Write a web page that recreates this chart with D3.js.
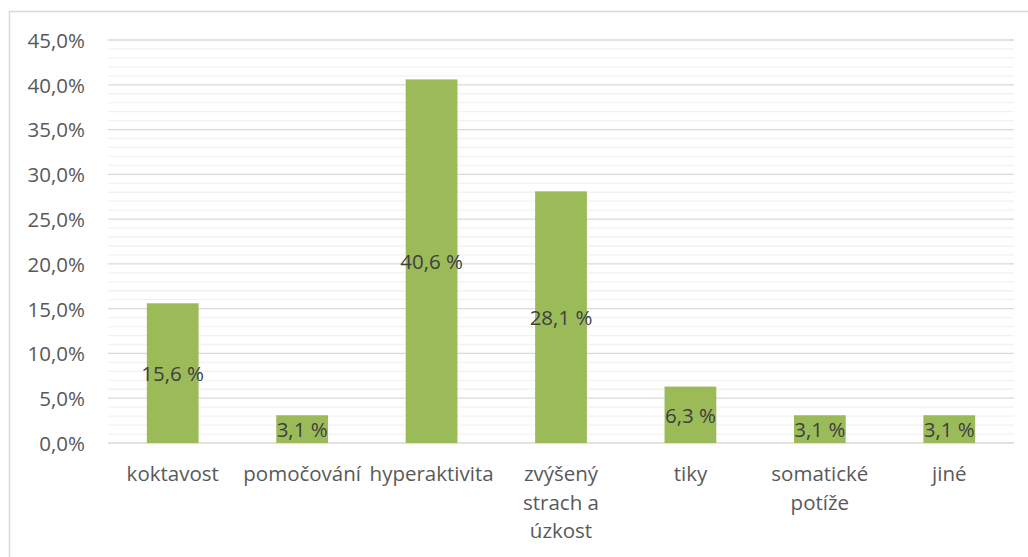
<!DOCTYPE html>
<html>
<head>
<meta charset="utf-8">
<script src="https://cdn.jsdelivr.net/npm/d3@7"></script>
<style>
  html, body { margin: 0; padding: 0; background: #fff; }
  svg { display: block; font-family: "Open Sans", Lato, sans-serif; }
</style>
</head>
<body>
<svg id="chart" width="1028" height="557"></svg>
<script>
// Categories and their shares in percent
const categories = ["koktavost", "pomočování", "hyperaktivita", "zvýšený strach a úzkost", "tiky", "somatické potíže", "jiné"];
const values = [15.6, 3.1, 40.6, 28.1, 6.3, 3.1, 3.1];
const yTicks = [0, 5, 10, 15, 20, 25, 30, 35, 40, 45];
const yMinorTicks = d3.range(0, 46, 1);

const svg = d3.select("#chart");
const W = 1028, H = 557;
const plot = { left: 108, right: 1014, top: 40, bottom: 443 };
const FONT = "'Open Sans', Lato, sans-serif";
const FS = 20.5;

// outer chart frame
svg.append("rect")
  .attr("x", 9.5).attr("y", 11.5)
  .attr("width", W + 20).attr("height", H + 20)
  .attr("fill", "#fff").attr("stroke", "#d9d9d9").attr("stroke-width", 1.5);

const x = d3.scaleBand()
  .domain(categories)
  .range([plot.left, plot.right])
  .paddingInner(0.6)
  .paddingOuter(0.3);

const y = d3.scaleLinear().domain([0, 45]).range([plot.bottom, plot.top]);

const fmtAxis = v => d3.format(".1f")(v).replace(".", ",") + "%";
const fmtLabel = v => d3.format(".1f")(v).replace(".", ",") + " %";

// minor gridlines
svg.append("g").selectAll("line")
  .data(yMinorTicks.filter(v => v % 5 !== 0))
  .join("line")
  .attr("x1", plot.left).attr("x2", plot.right)
  .attr("y1", d => y(d)).attr("y2", d => y(d))
  .attr("stroke", "#f2f2f2").attr("stroke-width", 1.3);

// major gridlines
svg.append("g").selectAll("line")
  .data(yTicks)
  .join("line")
  .attr("x1", plot.left).attr("x2", plot.right)
  .attr("y1", d => y(d)).attr("y2", d => y(d))
  .attr("stroke", "#d9d9d9").attr("stroke-width", 1.3);

// y axis labels
const yAxis = d3.axisLeft(y).tickValues(yTicks).tickFormat(fmtAxis).tickSize(0).tickPadding(23);
const gy = svg.append("g").attr("transform", `translate(${plot.left},0)`).call(yAxis);
gy.select(".domain").remove();
gy.selectAll("text").attr("fill", "#595959").attr("font-size", FS).attr("font-family", FONT)
  .attr("dy", "0.36em");

// bars
svg.append("g").selectAll("rect")
  .data(values)
  .join("rect")
  .attr("x", (d, i) => x(categories[i]))
  .attr("width", x.bandwidth())
  .attr("y", d => y(d))
  .attr("height", d => y(0) - y(d))
  .attr("fill", "#9bbb59");

// value labels centred in each bar
svg.append("g").selectAll("text")
  .data(values)
  .join("text")
  .attr("x", (d, i) => x(categories[i]) + x.bandwidth() / 2)
  .attr("y", d => (y(d) + y(0)) / 2)
  .attr("dy", "0.4em")
  .attr("text-anchor", "middle")
  .attr("fill", "#404040")
  .attr("font-size", FS)
  .attr("font-family", FONT)
  .text(fmtLabel);

// x axis labels, wrapped by words
const xAxis = d3.axisBottom(x).tickSize(0).tickPadding(0);
const gx = svg.append("g").attr("transform", `translate(0,${plot.bottom})`).call(xAxis);
gx.select(".domain").remove();
gx.selectAll("text")
  .attr("fill", "#595959").attr("font-size", FS).attr("font-family", FONT)
  .each(function(d) {
    const t = d3.select(this);
    const words = d.split(" ");
    const maxW = 120;
    t.text(null);
    let lines = [], line = [];
    const probe = t.append("tspan");
    words.forEach(w => {
      const test = line.concat(w).join(" ");
      probe.text(test);
      if (probe.node().getComputedTextLength() > maxW && line.length) {
        lines.push(line.join(" "));
        line = [w];
      } else line.push(w);
    });
    lines.push(line.join(" "));
    probe.remove();
    t.attr("dy", null).attr("y", null);
    lines.forEach((l, i) => {
      t.append("tspan").attr("x", 0).attr("y", 38 + i * 28.5).text(l);
    });
  });
</script>
</body>
</html>
